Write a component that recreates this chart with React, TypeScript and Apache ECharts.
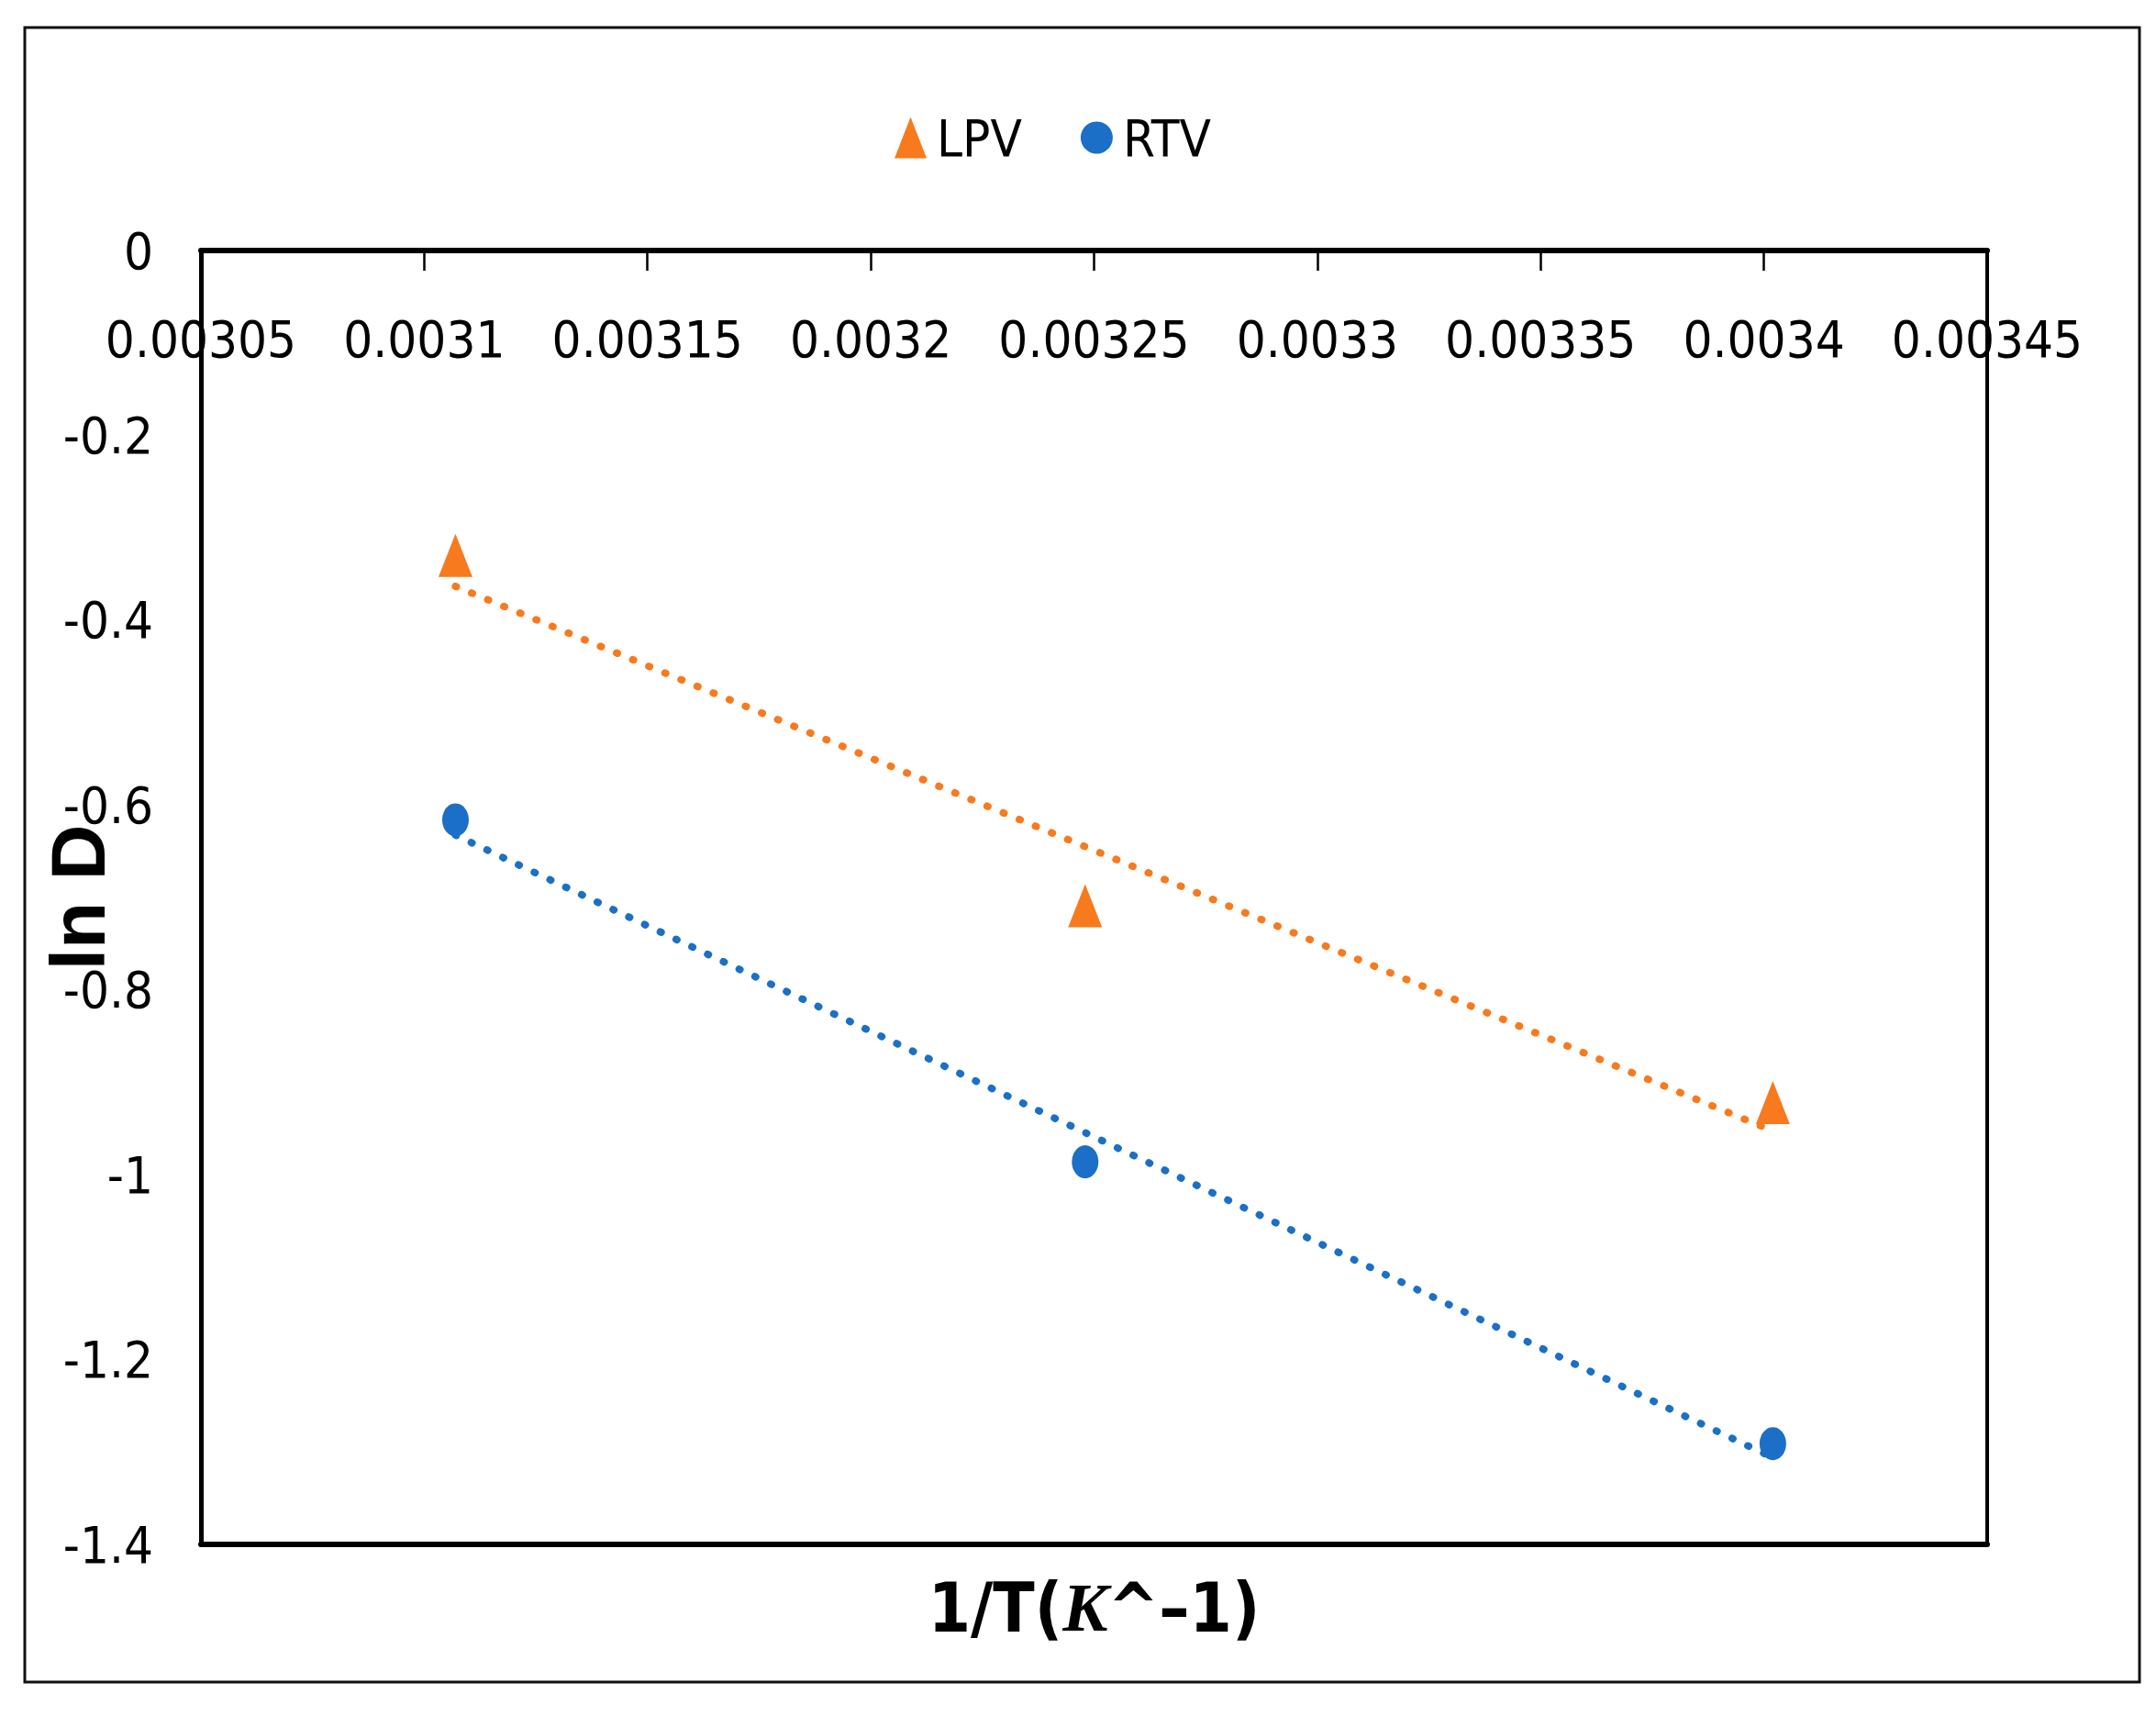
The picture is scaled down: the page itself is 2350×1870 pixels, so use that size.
import React, { useEffect, useRef } from 'react';
import * as echarts from 'echarts';

// 1/T (K^-1) and ln D
const invT = [0.003107, 0.003248, 0.003402];
const lpvLnD = [-0.33, -0.709, -0.922];
const rtvLnD = [-0.616, -0.986, -1.291];

const xMin = 0.00305;
const xMax = 0.00345;
const xStep = 0.00005;
const yMin = -1.4;
const yMax = 0;
const yStep = 0.2;

const ORANGE = '#F77A1E';
const BLUE = '#1B6FC6';
const NARROW = "'DejaVu Sans Condensed', 'Liberation Sans', sans-serif";

// least-squares trendline over the data range (like Excel's linear trendline)
const trend = (xs: number[], ys: number[]) => {
    const n = xs.length;
    const mx = xs.reduce((a, b) => a + b, 0) / n;
    const my = ys.reduce((a, b) => a + b, 0) / n;
    let sxy = 0;
    let sxx = 0;
    xs.forEach((x, i) => {
        sxy += (x - mx) * (ys[i] - my);
        sxx += (x - mx) * (x - mx);
    });
    const k = sxy / sxx;
    const x0 = Math.min(...xs);
    const x1 = Math.max(...xs);
    return [[x0, my + k * (x0 - mx)], [x1, my + k * (x1 - mx)]];
};

const App: React.FC = () => {
    const chartRef = useRef<HTMLDivElement>(null);

    useEffect(() => {
        if (!chartRef.current) return;
        const chart = echarts.init(chartRef.current, undefined, { renderer: 'svg' });

        const dotted = (color: string) => ({
            color,
            width: 8,
            type: [1, 18],
            cap: 'round'
        });

        const option = {
            animation: false,
            backgroundColor: '#fff',
            graphic: [
                {
                    type: 'rect',
                    shape: { x: 27, y: 30, width: 2305, height: 1803 },
                    style: { fill: 'none', stroke: '#111', lineWidth: 3 },
                    z: -10
                }
            ],
            legend: {
                left: 970,
                top: 117,
                itemWidth: 35,
                itemHeight: 45,
                itemGap: 64,
                symbolKeepAspect: false,
                data: [
                    { name: 'LPV', icon: 'triangle' },
                    { name: 'RTV', icon: 'circle' }
                ],
                textStyle: {
                    fontFamily: NARROW,
                    fontSize: 56,
                    color: '#000',
                    padding: [0, 0, 0, 6]
                }
            },
            grid: {
                left: 219,
                right: 184,
                top: 273,
                bottom: 187,
                outerBoundsMode: 'none',
                containLabel: false,
                show: true,
                borderColor: '#000',
                borderWidth: 4
            },
            xAxis: [
                {
                    type: 'value',
                    position: 'top',
                    min: xMin,
                    max: xMax,
                    interval: xStep,
                    axisLine: { onZero: false, lineStyle: { color: '#000', width: 6 } },
                    axisTick: { inside: true, length: 22, lineStyle: { color: '#000', width: 2.5 } },
                    axisLabel: {
                        inside: true,
                        margin: 68,
                        fontFamily: NARROW,
                        fontSize: 56,
                        color: '#000',
                        formatter: (v: number) => String(Number(v.toFixed(6)))
                    },
                    splitLine: { show: false }
                },
                {
                    type: 'value',
                    position: 'bottom',
                    min: xMin,
                    max: xMax,
                    interval: xStep,
                    axisLine: { onZero: false, lineStyle: { color: '#000', width: 6 } },
                    axisTick: { show: false },
                    axisLabel: { show: false },
                    splitLine: { show: false },
                    name: '{a|1/T(}{k|K}{a|^–1)}',
                    nameLocation: 'middle',
                    nameGap: 32,
                    nameMoveOverlap: false,
                    nameTextStyle: {
                        rich: {
                            a: {
                                fontFamily: NARROW,
                                fontWeight: 'bold',
                                fontSize: 74,
                                color: '#000'
                            },
                            k: {
                                fontFamily: "'Liberation Serif', serif",
                                fontStyle: 'italic',
                                fontWeight: 'bold',
                                fontSize: 74,
                                color: '#000'
                            }
                        }
                    }
                }
            ],
            yAxis: {
                type: 'value',
                min: yMin,
                max: yMax,
                interval: yStep,
                axisLine: { show: true, onZero: false, lineStyle: { color: '#000', width: 5 } },
                axisTick: { show: false },
                axisLabel: {
                    margin: 52,
                    fontFamily: NARROW,
                    fontSize: 56,
                    color: '#000',
                    formatter: (v: number) => String(Number(v.toFixed(2)))
                },
                splitLine: { show: false },
                name: 'ln D',
                nameLocation: 'middle',
                nameRotate: 90,
                nameGap: 92,
                nameMoveOverlap: false,
                nameTextStyle: {
                    fontFamily: "'Liberation Sans', sans-serif",
                    fontWeight: 'bold',
                    fontSize: 84,
                    color: '#000'
                }
            },
            series: [
                {
                    name: 'Linear (LPV)',
                    type: 'line',
                    xAxisIndex: 0,
                    data: trend(invT, lpvLnD),
                    symbol: 'none',
                    lineStyle: dotted(ORANGE),
                    z: 1
                },
                {
                    name: 'Linear (RTV)',
                    type: 'line',
                    xAxisIndex: 0,
                    data: trend(invT, rtvLnD),
                    symbol: 'none',
                    lineStyle: dotted(BLUE),
                    z: 1
                },
                {
                    name: 'LPV',
                    type: 'scatter',
                    xAxisIndex: 0,
                    symbol: 'triangle',
                    symbolSize: [37, 47],
                    itemStyle: { color: ORANGE, opacity: 1 },
                    data: invT.map((x, i) => [x, lpvLnD[i]]),
                    z: 3
                },
                {
                    name: 'RTV',
                    type: 'scatter',
                    xAxisIndex: 0,
                    symbol: 'circle',
                    symbolSize: [29, 36],
                    itemStyle: { color: BLUE, opacity: 1 },
                    data: invT.map((x, i) => [x, rtvLnD[i]]),
                    z: 3
                }
            ]
        };

        chart.setOption(option as any);

        const handleResize = () => chart.resize();
        window.addEventListener('resize', handleResize);

        return () => {
            window.removeEventListener('resize', handleResize);
            chart.dispose();
        };
    }, []);

    return (
        <div
            ref={chartRef}
            style={{ position: 'absolute', left: 0, top: 0, width: 2350, height: 1870 }}
        />
    );
};

export default App;
